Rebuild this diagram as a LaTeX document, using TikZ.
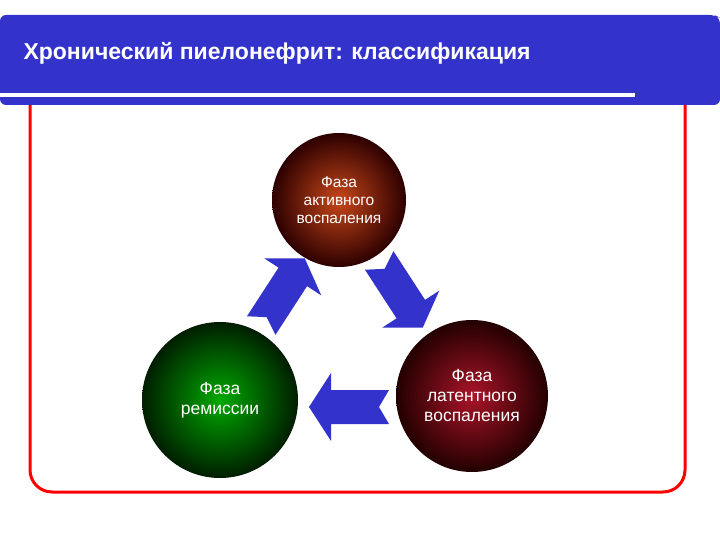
\documentclass[tikz,border=0pt]{standalone}
\usepackage{fontspec}
\setmainfont{Liberation Sans}
\begin{document}
\begin{tikzpicture}[x=1pt,y=-1pt,
  phase/.style={circle,text=white,align=center,font=\fontsize{17.5}{20}\selectfont,inner sep=0pt},
  pics/barrow/.style={code={\fill[blk] (-40,-17) -- (18,-17) -- (18,-34) -- (40,0) -- (18,34) -- (18,17) -- (-40,17) -- (-30,0) -- cycle;}}]
\definecolor{hdr}{RGB}{51,51,204}
\tikzset{blk/.style={fill=hdr}}
\useasboundingbox (0,0) rectangle (720,540);
\fill[white] (0,0) rectangle (720,540);
% frame
\draw[red,line width=3pt,rounded corners=22pt] (30,95) -- (30,492) -- (685,492) -- (685,95);
% header
\fill[hdr,rounded corners=6pt] (0,15) -- (715,15) -- (720,18) -- (720,105) -- (0,105) -- cycle;
\fill[white] (0,93) rectangle (635,97);
\node[anchor=west,text=white,font=\fontsize{23}{26}\selectfont\bfseries] (title) at (20,53) {Хронический пиелонефрит: классификация};
% circles
\node[phase,minimum size=134pt,inner color={rgb,255:red,200;green,70;blue,25},outer color={rgb,255:red,45;green,0;blue,0},font=\fontsize{15.5}{18}\selectfont] (a) at (339,200) {Фаза\\активного\\воспаления};
\node[phase,minimum size=156pt,inner color={rgb,255:red,0;green,170;blue,0},outer color={rgb,255:red,0;green,30;blue,0}] (r) at (220,400) {Фаза\\ремиссии};
\node[phase,minimum size=152pt,inner color={rgb,255:red,170;green,20;blue,40},outer color={rgb,255:red,35;green,0;blue,0}] (l) at (472,396) {Фаза\\латентного\\воспаления};
% arrows
\pic[rotate=180] at (349,407) {barrow};
\pic[rotate=57] at (283,292) {barrow};
\pic[rotate=-57] at (401,294) {barrow};
\end{tikzpicture}
\end{document}
